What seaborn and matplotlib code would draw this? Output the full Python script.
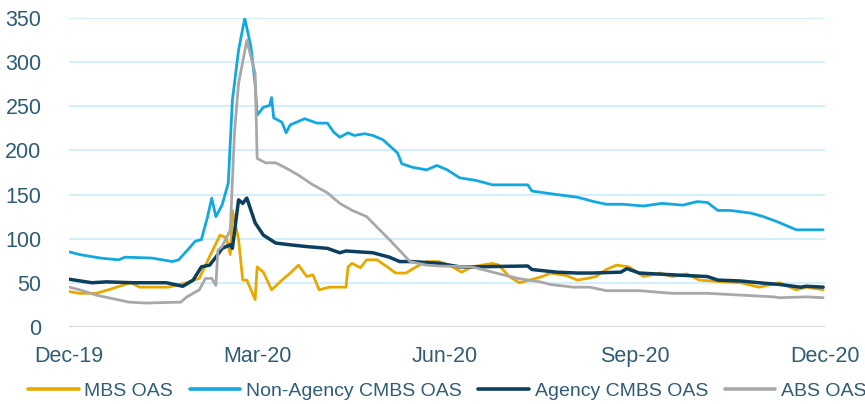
import numpy as np
import pandas as pd
import matplotlib
matplotlib.use('Agg')
import matplotlib.pyplot as plt
import seaborn as sns
from matplotlib.lines import Line2D

# spreads in bp, x = days since 31-Dec-2019
START = pd.Timestamp('2019-12-31')

mbs_days = [0, 5, 13, 19, 27, 30, 34, 39, 48, 57, 63, 66, 73, 76, 78, 79, 82, 84, 86, 90,
            91, 94, 98, 103, 107, 111, 115, 118, 121, 126, 134, 135, 137, 141, 144, 149, 154,
            158, 163, 168, 173, 179, 184, 190, 195, 205, 208, 213, 218, 223, 229, 233, 241,
            246, 251, 255, 260, 265, 271, 278, 286, 292, 299, 305, 317, 325, 334, 344, 352,
            357, 365]
mbs_oas = [40, 38, 38, 42, 48, 50, 45, 45, 45, 50, 55, 70, 104, 101, 82, 132, 99, 53, 53, 31,
           68, 62, 42, 53, 61, 70, 57, 59, 42, 45, 45, 68, 72, 67, 76, 76, 68,
           61, 61, 68, 74, 74, 70, 62, 68, 72, 70, 57, 50, 53, 57, 61, 58,
           53, 55, 57, 65, 70, 68, 57, 61, 57, 60, 53, 51, 50, 45, 50, 42,
           45, 42]

nonagency_days = [0, 5, 15, 24, 27, 40, 50, 53, 58, 61, 64, 67, 69, 71, 74, 77, 79, 82, 85, 88,
                  90, 91, 94, 97, 98, 99, 103, 105, 107, 114, 120, 125, 128, 131, 135, 138, 143,
                  147, 152, 159, 161, 166, 173, 178, 183, 189, 197, 205, 222, 224, 236, 246, 254,
                  260, 268, 278, 287, 297, 304, 309, 314, 320, 330, 336, 343, 349, 352, 365]
nonagency_oas = [85, 82, 78, 76, 79, 78, 74, 76, 89, 97, 99, 125, 146, 125, 138, 163, 257, 314, 350, 317,
                 276, 240, 249, 251, 260, 237, 232, 220, 229, 236, 231, 231, 221, 215, 220, 217, 219,
                 217, 212, 197, 185, 181, 178, 183, 178, 169, 166, 161, 161, 154, 150, 147, 142,
                 139, 139, 137, 140, 138, 142, 141, 132, 132, 129, 125, 119, 113, 110, 110]

agency_days = [0, 11, 18, 31, 47, 55, 60, 64, 68, 71, 74, 78, 79, 82, 84, 86, 90, 94, 100, 107,
               115, 125, 131, 134, 147, 155, 160, 166, 179, 189, 195, 222, 224, 236, 246, 253,
               267, 270, 276, 292, 309, 314, 325, 334, 344, 354, 357, 365]
agency_oas = [54, 50, 51, 50, 50, 46, 53, 68, 70, 79, 89, 93, 89, 144, 140, 146, 118, 104, 95, 93,
              91, 89, 84, 86, 84, 79, 74, 74, 72, 68, 68, 69, 65, 62, 61, 61,
              62, 66, 61, 59, 57, 53, 52, 50, 48, 45, 46, 45]

abs_days = [0, 5, 13, 19, 29, 37, 54, 57, 63, 66, 69, 71, 72, 74, 78, 80, 82, 86, 88, 90,
            91, 95, 100, 105, 111, 118, 125, 131, 137, 144, 149, 155, 161, 165, 173, 179, 195,
            205, 217, 228, 233, 244, 252, 260, 276, 292, 309, 325, 341, 344, 357, 365]
abs_oas = [45, 42, 36, 33, 28, 27, 28, 34, 42, 55, 55, 47, 87, 91, 110, 220, 276, 325, 306, 288,
           191, 186, 186, 180, 172, 161, 152, 140, 132, 125, 113, 99, 84, 74, 70, 69, 68,
           62, 55, 51, 48, 45, 45, 41, 41, 38, 38, 36, 34, 33, 34, 33]

series_names = ['MBS OAS', 'Non-Agency CMBS OAS', 'Agency CMBS OAS', 'ABS OAS']
series_days = [mbs_days, nonagency_days, agency_days, abs_days]
series_vals = [mbs_oas, nonagency_oas, agency_oas, abs_oas]
colors = ['#E9A800', '#12A8E0', '#0C3F5F', '#A8A8A8']

tick_dates = ['2019-12-31', '2020-03-31', '2020-06-30', '2020-09-30', '2020-12-31']

frames = []
for nm, d, v in zip(series_names, series_days, series_vals):
    frames.append(pd.DataFrame({'date': START + pd.to_timedelta(d, unit='D'),
                                'oas': v, 'series': nm}))
df = pd.concat(frames, ignore_index=True)

sns.set_theme(style='white')
plt.rcParams['font.family'] = ['Liberation Sans', 'DejaVu Sans']

fig = plt.figure(figsize=(8.65, 4.04), dpi=100)
ax = fig.add_axes([0.080, 0.191, 0.874, 0.764])

for y in range(50, 351, 50):
    ax.axhline(y, color='#CBEDFA', lw=1.2, zorder=0)
ax.axhline(0, color='#D6D6D6', lw=1.5, zorder=0)

sns.lineplot(data=df, x='date', y='oas', hue='series', hue_order=series_names,
             palette=dict(zip(series_names, colors)), lw=2.0, ax=ax, legend=False)
ax.lines[-2].set_linewidth(2.5)  # Agency CMBS drawn a bit heavier

ax.set_ylim(0, 350)
ax.set_yticks(range(0, 351, 50))
tk = pd.to_datetime(tick_dates)
ax.set_xlim(tk[0], tk[-1])
ax.set_xticks(tk)
ax.set_xticklabels([t.strftime('%b-%y') for t in tk])
ax.tick_params(axis='y', length=0, pad=20, labelsize=15.5, labelcolor='#2F5C77')
ax.tick_params(axis='x', length=0, pad=14, labelsize=15.5, labelcolor='#2F5C77')
ax.set_xlabel(''); ax.set_ylabel('')
for s in ax.spines.values():
    s.set_visible(False)

handles = [Line2D([], [], color=c, lw=2.6) for c in colors]
fig.legend(handles, series_names, loc='center', bbox_to_anchor=(0.517, 0.032), ncol=4,
           frameon=False, fontsize=14, handlelength=2.6, handletextpad=0.3,
           columnspacing=0.85, labelcolor='#2F5C77')

fig.savefig('out.png', dpi=100)
